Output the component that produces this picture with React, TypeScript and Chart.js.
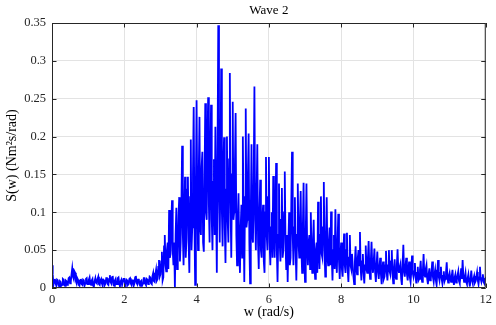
import React, { useEffect, useRef } from "react";
import { Chart, registerables } from "chart.js";

Chart.register(...registerables);

const TITLE = "Wave 2";
const X_LABEL = "w (rad/s)";
const Y_LABEL = "S(w) (Nm\u00B2s/rad)";
const X_TICKS = [0, 2, 4, 6, 8, 10, 12];
const Y_TICKS = [0, 0.05, 0.1, 0.15, 0.2, 0.25, 0.3, 0.35];
const W_START = 0;
const W_STEP = 0.02;

// spectrum values S(w), sampled every W_STEP rad/s, one array per rad/s
const S_0_1 = [
  0.030, 0.018, 0.004, 0.009, 0.012, 0.006, 0.003, 0.011, 0.010, 0.004,
  0.002, 0.009, 0.008, 0.003, 0.004, 0.012, 0.011, 0.005, 0.003, 0.010,
  0.009, 0.004, 0.005, 0.013, 0.014, 0.006, 0.008, 0.018, 0.026, 0.015,
  0.012, 0.022, 0.020, 0.009, 0.006, 0.013, 0.011, 0.004, 0.003, 0.010,
  0.012, 0.005, 0.004, 0.011, 0.010, 0.003, 0.006, 0.012, 0.013, 0.005,
];
const S_1_2 = [
  0.005, 0.011, 0.014, 0.006, 0.004, 0.010, 0.012, 0.003, 0.002, 0.009,
  0.013, 0.007, 0.006, 0.012, 0.015, 0.005, 0.004, 0.010, 0.012, 0.006,
  0.003, 0.011, 0.010, 0.004, 0.006, 0.013, 0.014, 0.005, 0.004, 0.012,
  0.017, 0.008, 0.006, 0.014, 0.016, 0.004, 0.003, 0.010, 0.012, 0.005,
  0.005, 0.013, 0.014, 0.006, 0.002, 0.009, 0.011, 0.004, 0.004, 0.012,
];
const S_2_3 = [
  0.012, 0.006, 0.003, 0.011, 0.010, 0.004, 0.005, 0.012, 0.013, 0.006,
  0.004, 0.010, 0.011, 0.003, 0.006, 0.014, 0.016, 0.007, 0.005, 0.011,
  0.012, 0.005, 0.003, 0.009, 0.010, 0.004, 0.006, 0.013, 0.013, 0.006,
  0.004, 0.012, 0.011, 0.005, 0.007, 0.015, 0.014, 0.006, 0.005, 0.016,
  0.020, 0.009, 0.008, 0.018, 0.024, 0.010, 0.012, 0.028, 0.037, 0.015,
];
const S_3_4 = [
  0.018, 0.035, 0.048, 0.010, 0.014, 0.055, 0.070, 0.030, 0.022, 0.050,
  0.060, 0.025, 0.103, 0.040, 0.045, 0.085, 0.116, 0.050, 0.030, 0.060,
  0.000, 0.070, 0.106, 0.025, 0.040, 0.095, 0.120, 0.035, 0.060, 0.110,
  0.188, 0.070, 0.030, 0.100, 0.147, 0.040, 0.065, 0.130, 0.147, 0.060,
  0.020, 0.120, 0.196, 0.050, 0.080, 0.150, 0.239, 0.090, 0.004, 0.130,
];
const S_4_5 = [
  0.248, 0.110, 0.050, 0.150, 0.226, 0.080, 0.070, 0.160, 0.180, 0.060,
  0.048, 0.140, 0.244, 0.100, 0.090, 0.190, 0.252, 0.110, 0.060, 0.170,
  0.242, 0.090, 0.050, 0.140, 0.170, 0.070, 0.213, 0.110, 0.020, 0.180,
  0.347, 0.120, 0.060, 0.150, 0.290, 0.100, 0.055, 0.160, 0.199, 0.080,
  0.033, 0.130, 0.200, 0.090, 0.060, 0.170, 0.284, 0.110, 0.040, 0.150,
];
const S_5_6 = [
  0.246, 0.090, 0.100, 0.160, 0.231, 0.070, 0.030, 0.090, 0.125, 0.050,
  0.020, 0.080, 0.110, 0.040, 0.200, 0.090, 0.008, 0.120, 0.237, 0.080,
  0.090, 0.150, 0.204, 0.060, 0.006, 0.100, 0.190, 0.070, 0.060, 0.140,
  0.266, 0.090, 0.050, 0.120, 0.190, 0.060, 0.025, 0.100, 0.143, 0.050,
  0.040, 0.090, 0.110, 0.035, 0.020, 0.100, 0.173, 0.070, 0.050, 0.120,
];
const S_6_7 = [
  0.173, 0.060, 0.030, 0.080, 0.100, 0.040, 0.148, 0.070, 0.040, 0.090,
  0.165, 0.050, 0.008, 0.070, 0.138, 0.060, 0.035, 0.090, 0.132, 0.040,
  0.050, 0.100, 0.154, 0.060, 0.025, 0.070, 0.008, 0.060, 0.100, 0.030,
  0.040, 0.110, 0.180, 0.070, 0.030, 0.080, 0.120, 0.050, 0.010, 0.070,
  0.138, 0.060, 0.040, 0.090, 0.128, 0.050, 0.020, 0.080, 0.139, 0.040,
];
const S_7_8 = [
  0.008, 0.070, 0.138, 0.050, 0.030, 0.060, 0.070, 0.025, 0.100, 0.045,
  0.020, 0.060, 0.090, 0.030, 0.012, 0.050, 0.060, 0.020, 0.114, 0.050,
  0.025, 0.070, 0.121, 0.045, 0.040, 0.080, 0.140, 0.050, 0.015, 0.060,
  0.120, 0.040, 0.030, 0.060, 0.080, 0.030, 0.101, 0.040, 0.010, 0.050,
  0.070, 0.025, 0.104, 0.040, 0.020, 0.060, 0.098, 0.035, 0.012, 0.045,
];
const S_8_9 = [
  0.060, 0.025, 0.015, 0.045, 0.072, 0.030, 0.020, 0.050, 0.073, 0.025,
  0.008, 0.040, 0.070, 0.030, 0.025, 0.045, 0.045, 0.015, 0.005, 0.035,
  0.055, 0.025, 0.018, 0.040, 0.050, 0.030, 0.074, 0.025, 0.010, 0.035,
  0.045, 0.020, 0.006, 0.030, 0.056, 0.025, 0.020, 0.040, 0.062, 0.025,
  0.012, 0.035, 0.061, 0.030, 0.020, 0.035, 0.052, 0.020, 0.008, 0.030,
];
const S_9_10 = [
  0.048, 0.022, 0.012, 0.028, 0.040, 0.018, 0.005, 0.025, 0.035, 0.012,
  0.015, 0.030, 0.049, 0.020, 0.010, 0.030, 0.050, 0.022, 0.018, 0.035,
  0.050, 0.020, 0.006, 0.025, 0.038, 0.015, 0.012, 0.030, 0.051, 0.025,
  0.020, 0.028, 0.032, 0.012, 0.004, 0.030, 0.057, 0.022, 0.015, 0.028,
  0.040, 0.018, 0.010, 0.025, 0.035, 0.014, 0.008, 0.022, 0.043, 0.020,
];
const S_10_11 = [
  0.015, 0.022, 0.033, 0.014, 0.006, 0.020, 0.028, 0.010, 0.012, 0.024,
  0.036, 0.015, 0.008, 0.022, 0.045, 0.018, 0.015, 0.025, 0.030, 0.012,
  0.005, 0.018, 0.026, 0.010, 0.012, 0.022, 0.035, 0.014, 0.008, 0.018,
  0.024, 0.010, 0.004, 0.020, 0.037, 0.015, 0.010, 0.020, 0.028, 0.012,
  0.006, 0.016, 0.022, 0.009, 0.012, 0.020, 0.034, 0.014, 0.007, 0.016,
];
const S_11_12 = [
  0.020, 0.012, 0.008, 0.016, 0.024, 0.010, 0.004, 0.014, 0.018, 0.007,
  0.010, 0.017, 0.022, 0.009, 0.006, 0.015, 0.026, 0.012, 0.037, 0.015,
  0.008, 0.014, 0.020, 0.008, 0.005, 0.013, 0.018, 0.008, 0.002, 0.012,
  0.023, 0.010, 0.006, 0.012, 0.016, 0.007, 0.009, 0.015, 0.021, 0.010,
  0.005, 0.014, 0.028, 0.012, 0.008, 0.013, 0.018, 0.008, 0.006, 0.012,
  0.015,
];

const S_VALUES = [
  ...S_0_1, ...S_1_2, ...S_2_3, ...S_3_4, ...S_4_5, ...S_5_6,
  ...S_6_7, ...S_7_8, ...S_8_9, ...S_9_10, ...S_10_11, ...S_11_12,
];

const AXIS_COLOR = "#262626";
const FONT_FAMILY = "'Liberation Serif', 'Times New Roman', serif";

const boxPlugin = {
  id: "matlabBox",
  afterDraw(chart: any) {
    const { ctx, chartArea } = chart;
    const { left, right, top, bottom } = chartArea;
    const xs = chart.scales.x;
    const ys = chart.scales.y;
    ctx.save();
    ctx.strokeStyle = AXIS_COLOR;
    ctx.lineWidth = 1;
    ctx.beginPath();
    ctx.rect(left + 0.5, top + 0.5, right - left - 1, bottom - top - 1);
    ctx.stroke();
    const tl = 4.5;
    ctx.beginPath();
    X_TICKS.forEach((t) => {
      const px = Math.round(xs.getPixelForValue(t)) + 0.5;
      ctx.moveTo(px, bottom);
      ctx.lineTo(px, bottom - tl);
      ctx.moveTo(px, top);
      ctx.lineTo(px, top + tl);
    });
    Y_TICKS.forEach((t) => {
      const py = Math.round(ys.getPixelForValue(t)) + 0.5;
      ctx.moveTo(left, py);
      ctx.lineTo(left + tl, py);
      ctx.moveTo(right, py);
      ctx.lineTo(right - tl, py);
    });
    ctx.stroke();
    ctx.fillStyle = "#000000";
    ctx.font = `13px ${FONT_FAMILY}`;
    ctx.textAlign = "center";
    ctx.textBaseline = "middle";
    ctx.fillText(TITLE, (left + right) / 2, 11);
    ctx.restore();
  },
};

export default function App() {
  const ref = useRef<HTMLCanvasElement | null>(null);
  useEffect(() => {
    if (!ref.current) return;
    const points = S_VALUES.map((v, i) => ({ x: W_START + i * W_STEP, y: v }));
    const chart = new Chart(ref.current, {
      type: "line",
      data: {
        datasets: [
          {
            data: points,
            borderColor: "#0000ff",
            borderWidth: 1.8,
            pointRadius: 0,
            tension: 0,
            fill: false,
          },
        ],
      },
      options: {
        responsive: false,
        animation: false,
        events: [],
        layout: { padding: { top: 23, right: 6, left: 0, bottom: 0 } },
        plugins: { legend: { display: false }, tooltip: { enabled: false }, title: { display: false } },
        scales: {
          x: {
            type: "linear",
            min: 0,
            max: 12,
            afterFit: (s: any) => { s.height = 37; },
            afterBuildTicks: (s: any) => { s.ticks = X_TICKS.map((v) => ({ value: v })); },
            grid: { color: "#e3e3e3", drawTicks: false, lineWidth: 1 },
            border: { display: false },
            ticks: { color: AXIS_COLOR, padding: 4, font: { family: FONT_FAMILY, size: 12.5 }, maxRotation: 0 },
            title: { display: true, text: X_LABEL, color: "#000", font: { family: FONT_FAMILY, size: 14 }, padding: { top: 0, bottom: 4 } },
          },
          y: {
            type: "linear",
            min: 0,
            max: 0.35,
            afterFit: (s: any) => { s.width = 52; },
            afterBuildTicks: (s: any) => { s.ticks = Y_TICKS.map((v) => ({ value: v })); },
            grid: { color: "#e3e3e3", drawTicks: false, lineWidth: 1 },
            border: { display: false },
            ticks: {
              color: AXIS_COLOR,
              padding: 6,
              font: { family: FONT_FAMILY, size: 12.5 },
              callback: (v: any) => String(Number(Number(v).toFixed(2))),
            },
            title: { display: true, text: Y_LABEL, color: "#000", font: { family: FONT_FAMILY, size: 14 }, padding: { top: 4, bottom: 0 } },
          },
        },
      },
      plugins: [boxPlugin],
    });
    return () => chart.destroy();
  }, []);
  return (
    <div style={{ position: "absolute", left: 0, top: 0, width: 496, height: 325, background: "#fff" }}>
      <canvas ref={ref} width={496} height={325} style={{ width: 496, height: 325 }} />
    </div>
  );
}
